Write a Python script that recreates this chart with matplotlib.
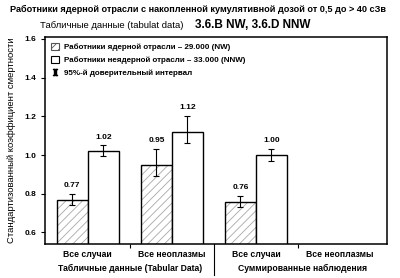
import matplotlib
matplotlib.use('Agg')
import matplotlib.pyplot as plt
from matplotlib.patches import Patch
from matplotlib.lines import Line2D
import matplotlib.transforms as mtransforms

plt.rcParams['font.family'] = ['Liberation Sans', 'DejaVu Sans']
plt.rcParams['font.weight'] = 'bold'
plt.rcParams['mathtext.fontset'] = 'dejavuserif'
plt.rcParams['hatch.linewidth'] = 0.6

# data
categories = ['Все случаи', 'Все неоплазмы', 'Все случаи', 'Все неоплазмы']
nw_values = [0.77, 0.95, 0.76, None]
nw_low = [0.74, 0.89, 0.73, None]
nw_high = [0.80, 1.03, 0.79, None]
nnw_values = [1.02, 1.12, 1.00, None]
nnw_low = [0.995, 1.06, 0.97, None]
nnw_high = [1.05, 1.20, 1.03, None]
group_labels = ['Табличные данные (Tabular Data)', 'Суммированные наблюдения']
y_ticks = [0.6, 0.8, 1.0, 1.2, 1.4, 1.6]

hatch_gray = '#a8a8a8'

fig = plt.figure(figsize=(4, 2.78), dpi=100)
ax = fig.add_axes([0.1125, 0.122, 0.855, 0.745])

width = 0.37
for i in range(len(categories)):
    if nw_values[i] is None:
        continue
    x1 = i - width / 2
    x2 = i + width / 2
    # hatched fill in gray, black outline on top
    ax.bar(x1, nw_values[i], width, bottom=0, color='white', edgecolor=hatch_gray,
           hatch='////', linewidth=0)
    ax.bar(x1, nw_values[i], width, bottom=0, fill=False, edgecolor='black', linewidth=1.0)
    ax.bar(x2, nnw_values[i], width, bottom=0, color='white', edgecolor='black',
           linewidth=1.0)
    ax.errorbar(x1, nw_values[i],
                yerr=[[nw_values[i] - nw_low[i]], [nw_high[i] - nw_values[i]]],
                fmt='none', ecolor='black', elinewidth=0.8, capsize=2.5, capthick=0.8)
    ax.errorbar(x2, nnw_values[i],
                yerr=[[nnw_values[i] - nnw_low[i]], [nnw_high[i] - nnw_values[i]]],
                fmt='none', ecolor='black', elinewidth=0.8, capsize=2.5, capthick=0.8)
    ax.text(x1, nw_high[i] + 0.025, '%.2f' % nw_values[i], ha='center', va='bottom', fontsize=6)
    ax.text(x2, nnw_high[i] + 0.025, '%.2f' % nnw_values[i], ha='center', va='bottom', fontsize=6)

ax.set_xlim(-0.51, 3.56)
ax.set_ylim(0.54, 1.61)
ax.set_yticks(y_ticks)
ax.set_yticklabels(['%.1f' % t for t in y_ticks], fontsize=6)
ax.set_xticks([0.5, 2.5])
ax.set_xticklabels([])
ax.tick_params(axis='both', direction='out', length=3, width=0.8)
for sp in ax.spines.values():
    sp.set_linewidth(1.1)

trans = mtransforms.blended_transform_factory(ax.transData, ax.transAxes)
for i, cat in enumerate(categories):
    ax.text(i, -0.03, cat, transform=trans, ha='center', va='top', fontsize=6.2)
ax.text(0.5, -0.095, group_labels[0], transform=trans, ha='center', va='top', fontsize=6.2)
ax.text(2.55, -0.095, group_labels[1], transform=trans, ha='center', va='top', fontsize=6.2)
ax.plot([1.5, 1.5], [0, -0.15], transform=trans, color='black', linewidth=0.8, clip_on=False)

ax.set_ylabel('Стандартизованный коэффициент смертности', fontsize=6.8, labelpad=6)

h_nw = Patch(facecolor='white', edgecolor='#555555', hatch='////', linewidth=0.8)
h_nnw = Patch(facecolor='white', edgecolor='black', linewidth=0.8)
h_ci = Line2D([], [], marker=r'$\mathrm{I}$', linestyle='none', color='black', markersize=5)
ax.legend([h_nw, h_nnw, h_ci],
          ['Работники ядерной отрасли – 29.000 (NW)',
           'Работники неядерной отрасли – 33.000 (NNW)',
           '95%-й доверительный интервал'],
          loc='upper left', frameon=False, fontsize=5.8, handlelength=1.0, handleheight=1.0,
          handletextpad=0.6, borderaxespad=0.3, labelspacing=0.6)

fig.text(0.025, 0.965, 'Работники ядерной отрасли с накопленной кумулятивной дозой от 0,5 до > 40 сЗв',
         fontsize=6.6, ha='left', va='center')
fig.text(0.1, 0.91, 'Табличные данные (tabulat data)', fontsize=6.8, fontweight='normal',
         ha='left', va='center')
fig.text(0.487, 0.91, '3.6.B NW, 3.6.D NNW', fontsize=8.5, ha='left', va='center')

fig.savefig('out.png', dpi=100)
